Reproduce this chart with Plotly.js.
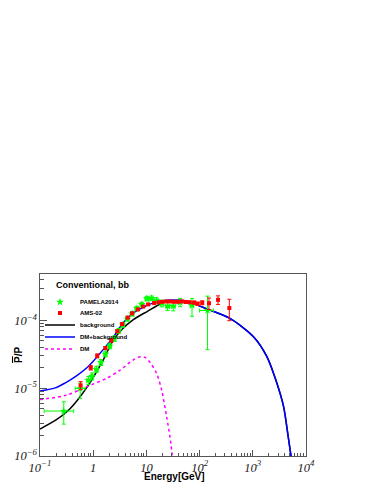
<!DOCTYPE html>
<html>
<head>
<meta charset="utf-8">
<script src="https://cdn.plot.ly/plotly-3.0.1.min.js"></script>
<style>
  html, body { margin: 0; padding: 0; background: #fff; }
  #chart { width: 374px; height: 484px; }
</style>
</head>
<body>
<div id="chart"></div>
<script>
// PAMELA 2014 antiproton ratio
var pamE = [0.28, 0.57, 0.81, 0.95, 1.15, 1.4, 1.7, 2.05, 2.5, 3.0, 3.6, 4.4, 5.4, 6.6, 8.2, 10.2, 12.5, 15.5, 19.5, 25, 32, 43, 72, 141];
var pamV = [4.6e-6, 9.9e-6, 1.31e-5, 1.5e-5, 1.9e-5, 2.4e-5, 3.2e-5, 4.2e-5, 5.4e-5, 7.0e-5, 8.6e-5, 1.05e-4, 1.25e-4, 1.5e-4, 1.72e-4, 2.1e-4, 2.12e-4, 1.98e-4, 1.78e-4, 1.62e-4, 1.62e-4, 1.85e-4, 1.66e-4, 1.4e-4];
var pamErrUp = [1.7e-6, 2.0e-6, 1.8e-6, 1.8e-6, 2e-6, 2.4e-6, 3e-6, 4e-6, 5e-6, 6e-6, 7e-6, 8e-6, 9e-6, 1.1e-5, 1.3e-5, 1.6e-5, 1.7e-5, 1.8e-5, 2e-5, 2.2e-5, 2.4e-5, 2.6e-5, 4.4e-5, 8.8e-5];
var pamErrDn = [1.65e-6, 2.8e-6, 1.8e-6, 1.8e-6, 2e-6, 2.4e-6, 3e-6, 4e-6, 5e-6, 6e-6, 7e-6, 8e-6, 9e-6, 1.1e-5, 1.3e-5, 1.6e-5, 1.7e-5, 1.8e-5, 2e-5, 2.2e-5, 2.4e-5, 2.6e-5, 5.1e-5, 1.03e-4];
var pamExUp = [0.15, 0.13, 0.06, 0.07, 0.09, 0.1, 0.12, 0.15, 0.18, 0.2, 0.25, 0.3, 0.4, 0.5, 0.6, 0.8, 1.0, 1.2, 1.5, 2, 3, 4, 6, 40];
var pamExDn = [0.16, 0.11, 0.06, 0.07, 0.09, 0.1, 0.12, 0.15, 0.18, 0.2, 0.25, 0.3, 0.4, 0.5, 0.6, 0.8, 1.0, 1.2, 1.5, 2, 3, 4, 6, 41];

// AMS-02
var amsE = [0.58, 0.9, 1.19, 1.69, 2.19, 2.84, 3.5, 4.45, 5.4, 6.9, 8.7, 10.8, 14, 17, 20, 24, 28, 33, 39, 46, 55, 65, 79, 92, 112, 150, 222, 362];
var amsV = [1.1e-5, 2.0e-5, 3.0e-5, 3.9e-5, 5.1e-5, 6.9e-5, 8.8e-5, 1.1e-4, 1.27e-4, 1.45e-4, 1.6e-4, 1.72e-4, 1.8e-4, 1.85e-4, 1.88e-4, 1.9e-4, 1.9e-4, 1.88e-4, 1.88e-4, 1.9e-4, 1.87e-4, 1.85e-4, 1.83e-4, 1.76e-4, 1.82e-4, 1.79e-4, 2.01e-4, 1.52e-4];
var amsErr = [1.5e-6, 1.5e-6, 2e-6, 2e-6, 3e-6, 3e-6, 4e-6, 4e-6, 5e-6, 5e-6, 5e-6, 5e-6, 5e-6, 5e-6, 5e-6, 5e-6, 5e-6, 5e-6, 6e-6, 6e-6, 7e-6, 8e-6, 9e-6, 1e-5, 1.2e-5, 3.5e-5, 2.9e-5, 5.3e-5];

// model curves
var bgE = [0.1, 0.2, 0.34, 0.5, 0.79, 1.17, 1.58, 2.34, 3.5, 5.6, 10.3, 20, 30, 50, 75, 136, 372, 1040, 1850, 2850, 3800, 4600, 5230];
var bgV = [2.5e-6, 3.4e-6, 4.7e-6, 6.6e-6, 1.07e-5, 1.78e-5, 2.7e-5, 5.0e-5, 7.4e-5, 1.02e-4, 1.35e-4, 1.8e-4, 1.94e-4, 1.95e-4, 1.78e-4, 1.48e-4, 1.07e-4, 5.7e-5, 2.9e-5, 1.17e-5, 5.3e-6, 2e-6, 1e-6];

var totE = [0.1, 0.2, 0.3, 0.5, 0.76, 1.0, 1.67, 2.36, 3.6, 5.6, 8.6, 12, 20, 30, 50, 75, 136, 372, 1040, 1850, 2850, 3800, 4600, 5230];
var totV = [9.1e-6, 1.02e-5, 1.2e-5, 1.55e-5, 2.0e-5, 2.5e-5, 4.0e-5, 5.6e-5, 9.0e-5, 1.28e-4, 1.55e-4, 1.75e-4, 1.95e-4, 2.0e-4, 1.96e-4, 1.78e-4, 1.48e-4, 1.07e-4, 5.7e-5, 2.9e-5, 1.17e-5, 5.3e-6, 2e-6, 1e-6];

var dmE = [0.1, 0.317, 0.75, 1.8, 3.2, 5.6, 7.6, 9.4, 11.7, 15.6, 19.4, 24, 27.8, 30.7];
var dmV = [6.8e-6, 7.9e-6, 1.05e-5, 1.4e-5, 1.84e-5, 2.6e-5, 2.9e-5, 2.85e-5, 2.4e-5, 1.64e-5, 9.3e-6, 3.8e-6, 1.9e-6, 1e-6];

var sans = 'Liberation Sans, Arial, sans-serif';
var legFont = {family: sans, size: 6, color: '#000'};

var pamela = {
    x: pamE, y: pamV, type: 'scatter', mode: 'markers',
    name: '<b>PAMELA2014</b>', legend: 'legend',
    marker: {symbol: 'star', size: 6, color: '#00ff00'},
    error_y: {type: 'data', array: pamErrUp, arrayminus: pamErrDn, color: '#00ff00', thickness: 1, width: 2},
    error_x: {type: 'data', array: pamExUp, arrayminus: pamExDn, color: '#00ff00', thickness: 1, width: 2}
};
var ams = {
    x: amsE, y: amsV, type: 'scatter', mode: 'markers',
    name: '<b>AMS-02</b>', legend: 'legend2',
    marker: {symbol: 'square', size: 4, color: '#ff0000'},
    error_y: {type: 'data', array: amsErr, color: '#ff0000', thickness: 1, width: 2}
};
var background = {
    x: bgE, y: bgV, type: 'scatter', mode: 'lines',
    name: '<b>background</b>', legend: 'legend3',
    line: {color: '#000', width: 1.5, shape: 'spline', smoothing: 0.8}
};
var total = {
    x: totE, y: totV, type: 'scatter', mode: 'lines',
    name: '<b>DM+background</b>', legend: 'legend4',
    line: {color: '#0000ff', width: 1.5, shape: 'spline', smoothing: 0.8}
};
var dm = {
    x: dmE, y: dmV, type: 'scatter', mode: 'lines',
    name: '<b>DM</b>', legend: 'legend5',
    line: {color: '#ff00ff', width: 1.5, dash: 'dot', shape: 'spline', smoothing: 0.8}
};

function leg(ypx) {
    return {
        x: 0, xanchor: 'left',
        y: (456 - ypx) / 182, yanchor: 'middle',
        bgcolor: 'rgba(0,0,0,0)', font: legFont,
        itemwidth: 30, tracegroupgap: 0
    };
}

var tickFont = {family: 'Liberation Serif, Times New Roman, serif', size: 10, style: 'italic', color: '#222'};

var layout = {
    width: 374, height: 484,
    margin: {l: 40, r: 68, t: 274, b: 28},
    paper_bgcolor: '#fff', plot_bgcolor: '#fff',
    showlegend: true,
    legend: leg(302), legend2: leg(313), legend3: leg(325), legend4: leg(337), legend5: leg(349),
    xaxis: {
        type: 'log', range: [-1, 4],
        showgrid: false, zeroline: false,
        showline: true, linecolor: '#555', linewidth: 1, mirror: true,
        ticks: 'inside', ticklen: 6, tickcolor: '#555',
        minor: {ticks: 'inside', ticklen: 3, tickcolor: '#555', showgrid: false},
        exponentformat: 'power', tickfont: tickFont
    },
    yaxis: {
        type: 'log', range: [-6, -3.316],
        showgrid: false, zeroline: false,
        showline: true, linecolor: '#555', linewidth: 1, mirror: true,
        ticks: 'inside', ticklen: 7, tickcolor: '#555',
        minor: {ticks: 'inside', ticklen: 4, tickcolor: '#555', showgrid: false},
        dtick: 1, exponentformat: 'power', tickfont: tickFont
    },
    annotations: [{
        text: '<b>Conventional, bb</b>', xref: 'paper', yref: 'paper',
        x: 0.053, y: 0.94, xanchor: 'left', yanchor: 'middle', showarrow: false,
        font: {family: sans, size: 9, color: '#000'}
    }, {
        // x axis title
        text: '<b>Energy[GeV]</b>', xref: 'paper', yref: 'paper',
        x: 0.504, y: -0.115, xanchor: 'center', yanchor: 'middle', showarrow: false,
        font: {family: sans, size: 10, color: '#000'}
    }, {
        // y axis title
        text: '<b><span style="text-decoration:overline">P</span>/P</b>', xref: 'paper', yref: 'paper',
        x: -0.079, y: 0.555, xanchor: 'center', yanchor: 'middle', showarrow: false, textangle: -90,
        font: {family: sans, size: 10, color: '#000'}
    }]
};

Plotly.newPlot('chart', [background, total, dm, pamela, ams], layout, {staticPlot: true});
</script>
</body>
</html>
